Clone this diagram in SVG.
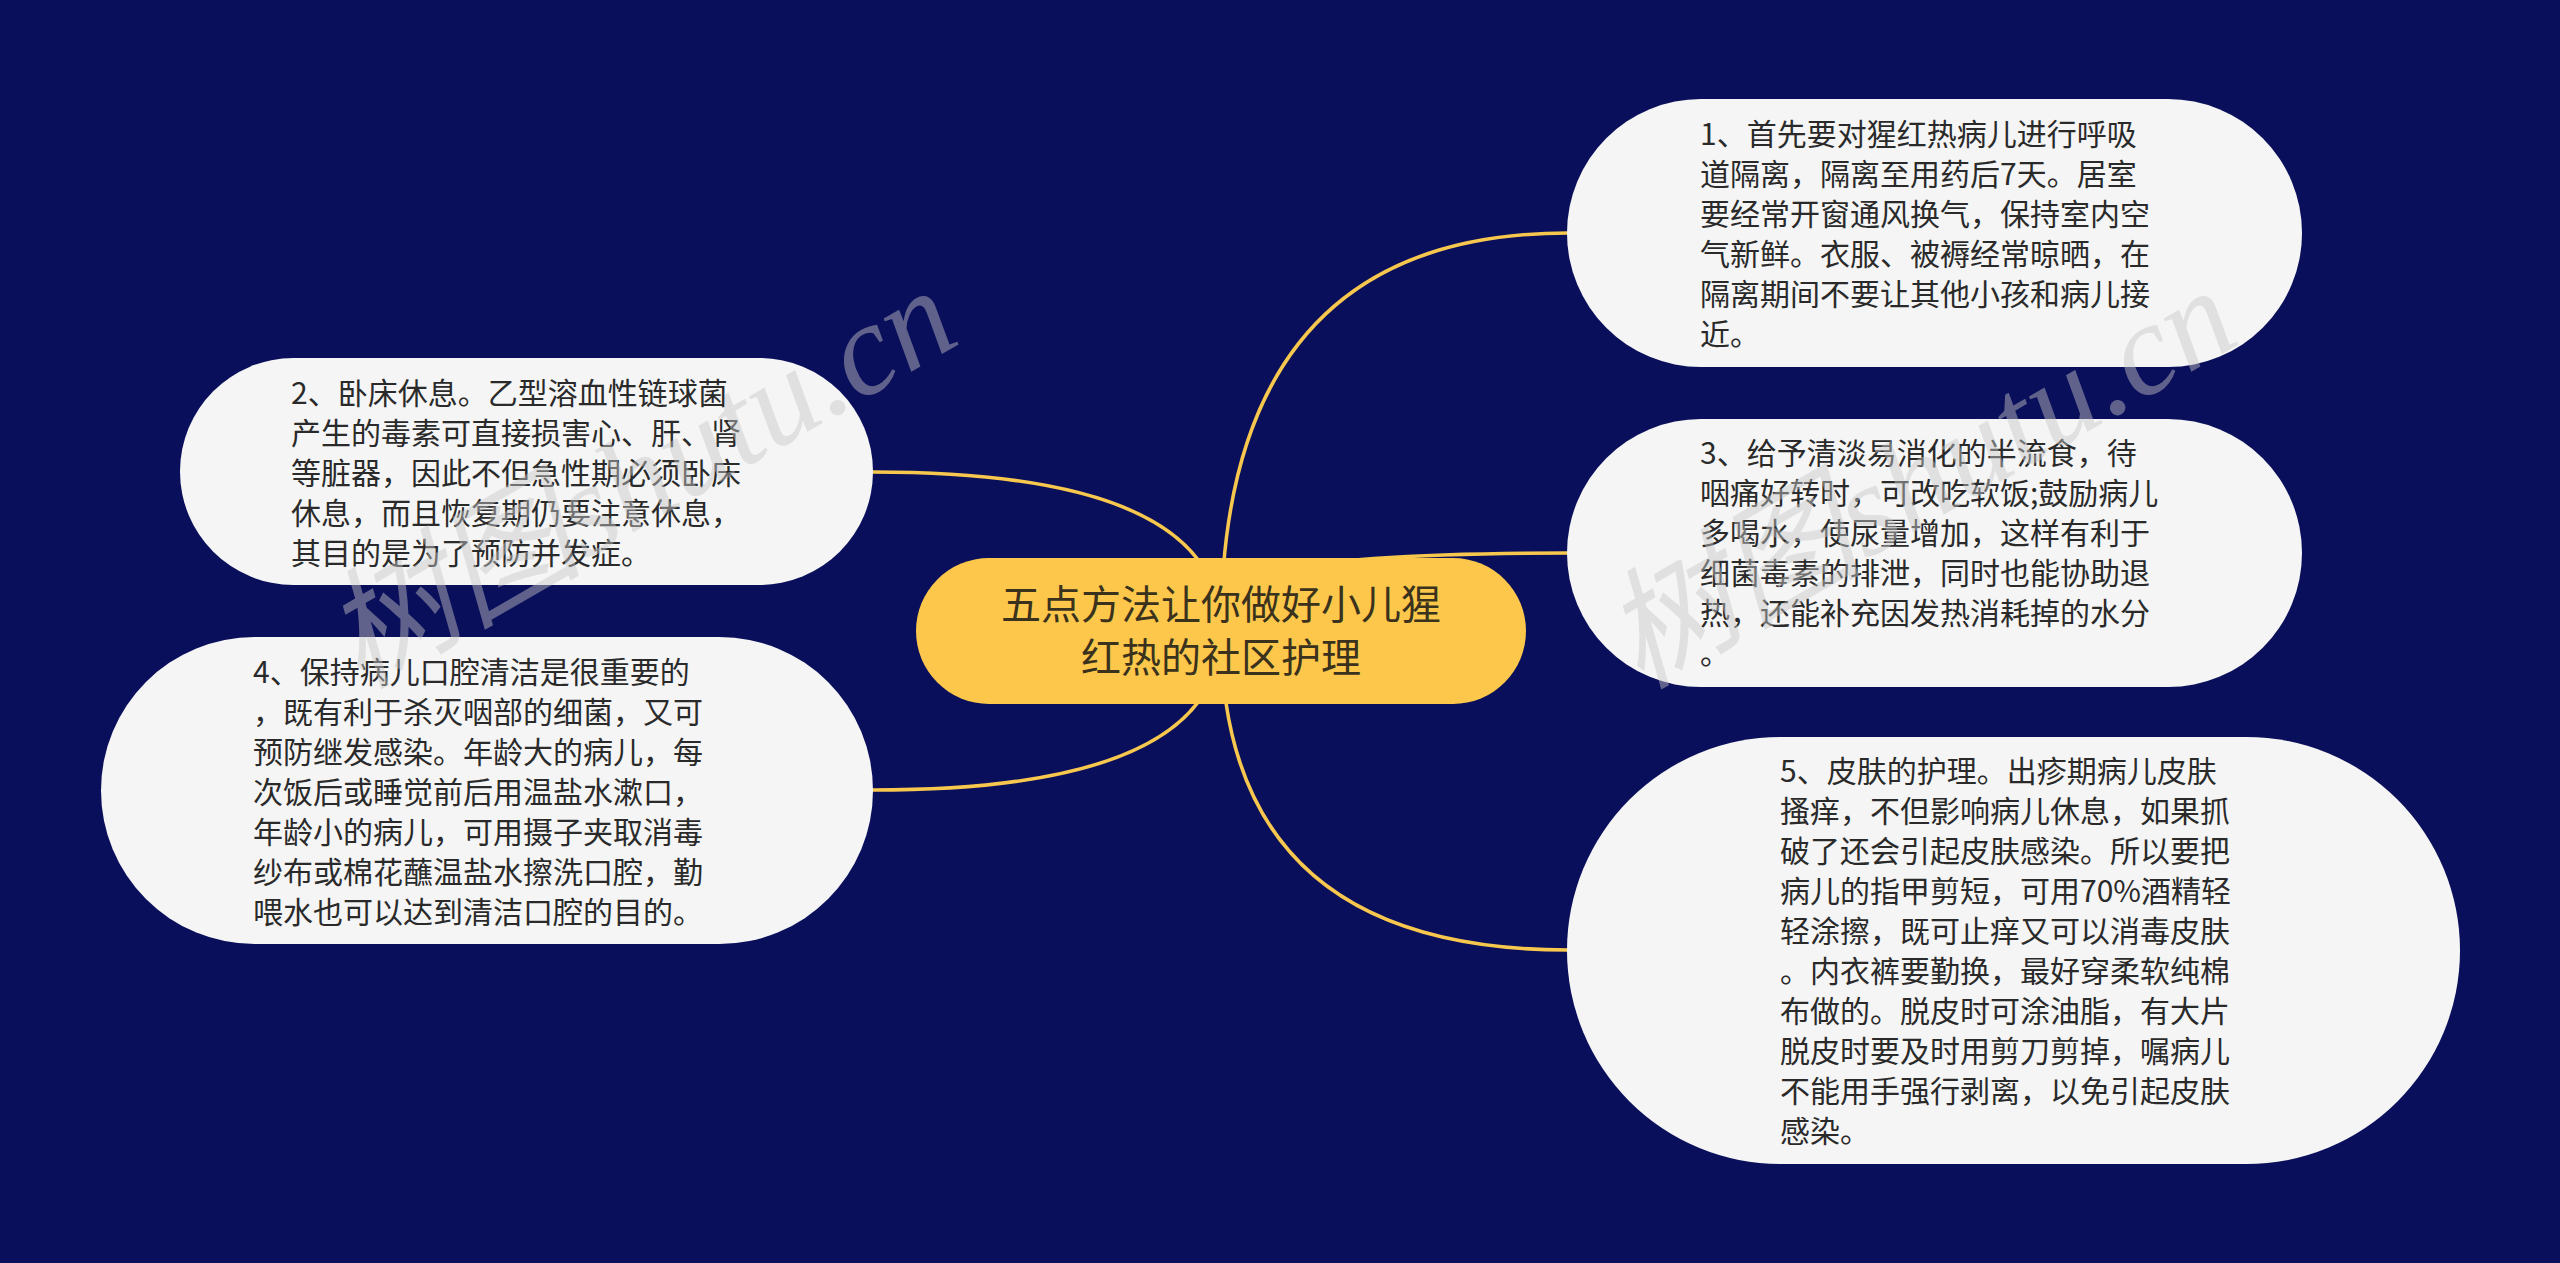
<svg xmlns="http://www.w3.org/2000/svg" width="2560" height="1263" viewBox="0 0 2560 1263">
<style>
.bg{fill:#0A0F5B}
.link{fill:none;stroke:#F8C84E;stroke-width:3.5;stroke-linecap:round}
.leaf{fill:#F5F5F5}
.root{fill:#FCC74A}
.t{font-family:"Noto Sans CJK SC","Noto Sans",sans-serif;font-size:30px;fill:#2A2A2A}
.rt{font-family:"Noto Sans CJK SC","Noto Sans",sans-serif;font-size:40px;fill:#3A321C;text-anchor:middle}
.wm{font-family:"Liberation Serif","Noto Sans CJK SC",serif;font-style:italic;font-size:130px;fill:#C8C8C8;opacity:0.45}
</style>
<rect class="bg" x="0" y="0" width="2560" height="1263"/>
<g id="connectors">
<path class="link" d="M1221,631 Q1221,233 1568,233"/>
<path class="link" d="M1221,631 Q1130,553 1568,553"/>
<path class="link" d="M1221,631 Q1221,950 1568,950"/>
<path class="link" d="M1221,631 Q1221,472 873,472"/>
<path class="link" d="M1221,631 Q1221,790 873,790"/>
</g>
<g id="root">
<rect class="root" x="916" y="558" width="610" height="146" rx="73"/>
<text class="rt"><tspan x="1221" y="619">五点方法让你做好小儿猩</tspan><tspan x="1221" y="672">红热的社区护理</tspan></text>
</g>
<g id="node1">
<rect class="leaf" x="1567" y="99" width="735" height="268" rx="134"/>
<text class="t"><tspan x="1700" y="145">1、首先要对猩红热病儿进行呼吸</tspan><tspan x="1700" y="185">道隔离，隔离至用药后7天。居室</tspan><tspan x="1700" y="225">要经常开窗通风换气，保持室内空</tspan><tspan x="1700" y="265">气新鲜。衣服、被褥经常晾晒，在</tspan><tspan x="1700" y="305">隔离期间不要让其他小孩和病儿接</tspan><tspan x="1700" y="345">近。</tspan></text>
</g>
<g id="node3">
<rect class="leaf" x="1567" y="419" width="735" height="268" rx="134"/>
<text class="t"><tspan x="1700" y="464">3、给予清淡易消化的半流食，待</tspan><tspan x="1700" y="504">咽痛好转时，可改吃软饭;鼓励病儿</tspan><tspan x="1700" y="544">多喝水，使尿量增加，这样有利于</tspan><tspan x="1700" y="584">细菌毒素的排泄，同时也能协助退</tspan><tspan x="1700" y="624">热，还能补充因发热消耗掉的水分</tspan><tspan x="1700" y="664">。</tspan></text>
</g>
<g id="node5">
<rect class="leaf" x="1567" y="737" width="893" height="427" rx="213.5"/>
<text class="t"><tspan x="1780" y="782">5、皮肤的护理。出疹期病儿皮肤</tspan><tspan x="1780" y="822">搔痒，不但影响病儿休息，如果抓</tspan><tspan x="1780" y="862">破了还会引起皮肤感染。所以要把</tspan><tspan x="1780" y="902">病儿的指甲剪短，可用70%酒精轻</tspan><tspan x="1780" y="942">轻涂擦，既可止痒又可以消毒皮肤</tspan><tspan x="1780" y="982">。内衣裤要勤换，最好穿柔软纯棉</tspan><tspan x="1780" y="1022">布做的。脱皮时可涂油脂，有大片</tspan><tspan x="1780" y="1062">脱皮时要及时用剪刀剪掉，嘱病儿</tspan><tspan x="1780" y="1102">不能用手强行剥离，以免引起皮肤</tspan><tspan x="1780" y="1142">感染。</tspan></text>
</g>
<g id="node2">
<rect class="leaf" x="180" y="358" width="693" height="227" rx="113.5"/>
<text class="t"><tspan x="291" y="404">2、卧床休息。乙型溶血性链球菌</tspan><tspan x="291" y="444">产生的毒素可直接损害心、肝、肾</tspan><tspan x="291" y="484">等脏器，因此不但急性期必须卧床</tspan><tspan x="291" y="524">休息，而且恢复期仍要注意休息，</tspan><tspan x="291" y="564">其目的是为了预防并发症。</tspan></text>
</g>
<g id="node4">
<rect class="leaf" x="101" y="637" width="772" height="307" rx="153.5"/>
<text class="t"><tspan x="253" y="683">4、保持病儿口腔清洁是很重要的</tspan><tspan x="253" y="723">，既有利于杀灭咽部的细菌，又可</tspan><tspan x="253" y="763">预防继发感染。年龄大的病儿，每</tspan><tspan x="253" y="803">次饭后或睡觉前后用温盐水漱口，</tspan><tspan x="253" y="843">年龄小的病儿，可用摄子夹取消毒</tspan><tspan x="253" y="883">纱布或棉花蘸温盐水擦洗口腔，勤</tspan><tspan x="253" y="923">喂水也可以达到清洁口腔的目的。</tspan></text>
</g>
<g id="watermarks">
<text class="wm" transform="translate(360,690) rotate(-30)">树图shutu.cn</text>
<text class="wm" transform="translate(1640,690) rotate(-30)">树图shutu.cn</text>
</g>
</svg>
